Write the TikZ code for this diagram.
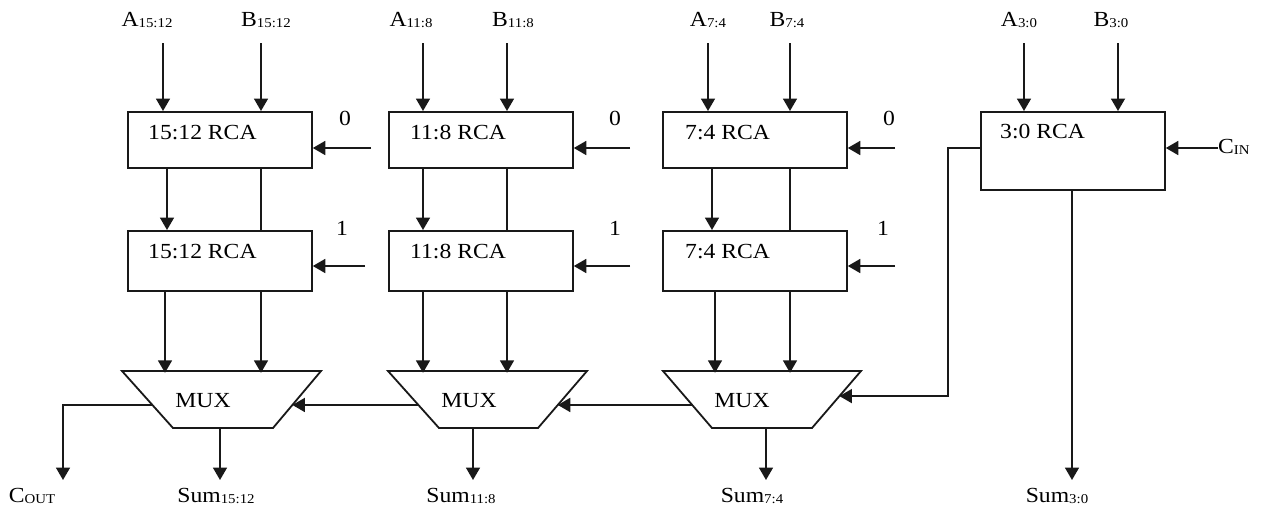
\documentclass[tikz,border=0pt]{standalone}
\usepackage{fontspec}
\setmainfont{Liberation Serif}[FakeStretch=1.1]
\usetikzlibrary{arrows.meta,calc}
% small index set just below the baseline of the main letter
\newcommand\lsub[1]{\raisebox{-1.2pt}{\fontsize{13.5pt}{15pt}\selectfont #1}}
\begin{document}
\begin{tikzpicture}[x=1pt,y=-1pt,
  wire/.style={line width=1.8pt, draw=black!90},
  arr/.style={wire, -{Triangle[width=14pt,length=12.5pt]}},
  rca/.style={draw=black!90, line width=1.8pt, minimum width=184pt, inner sep=0pt, anchor=north west},
  muxbody/.style={draw=black!90, line width=1.8pt, line join=miter},
  txt/.style={font=\fontsize{21.5pt}{24pt}\selectfont, inner sep=0pt, anchor=base},
]
\useasboundingbox (0,0) rectangle (1262,507);

% ripple-carry adders
\node[rca, minimum height=56pt] (r1a) at (127,111) {};
\node[rca, minimum height=60pt] (r1b) at (127,230) {};
\node[rca, minimum height=56pt] (r2a) at (388,111) {};
\node[rca, minimum height=60pt] (r2b) at (388,230) {};
\node[rca, minimum height=56pt] (r3a) at (662,111) {};
\node[rca, minimum height=60pt] (r3b) at (662,230) {};
\node[rca, minimum height=78pt] (r4)  at (980,111) {};

\node[txt, anchor=base west] (t1a) at ($(r1a.north west)+(21,28)$) {15:12 RCA};
\node[txt, anchor=base west] (t1b) at ($(r1b.north west)+(21,28)$) {15:12 RCA};
\node[txt, anchor=base west] (t2a) at ($(r2a.north west)+(22,28)$) {11:8 RCA};
\node[txt, anchor=base west] (t2b) at ($(r2b.north west)+(22,28)$) {11:8 RCA};
\node[txt, anchor=base west] (t3a) at ($(r3a.north west)+(23,28)$) {7:4 RCA};
\node[txt, anchor=base west] (t3b) at ($(r3b.north west)+(23,28)$) {7:4 RCA};
\node[txt, anchor=base west] (t4)  at ($(r4.north west)+(20,27)$) {3:0 RCA};

% multiplexer outlines (wide side up)
\coordinate (m1tl) at (122,371); \coordinate (m1tr) at (321,371);
\coordinate (m1br) at (273,428); \coordinate (m1bl) at (173,428);
\coordinate (m2tl) at (388,371); \coordinate (m2tr) at (587,371);
\coordinate (m2br) at (538,428); \coordinate (m2bl) at (439,428);
\coordinate (m3tl) at (663,371); \coordinate (m3tr) at (861,371);
\coordinate (m3br) at (812,428); \coordinate (m3bl) at (712,428);
\foreach \m in {m1,m2,m3}
  \draw[muxbody] (\m tl) -- (\m tr) -- (\m br) -- (\m bl) -- cycle;
\node[txt] (m1t) at (203,407) {MUX};
\node[txt] (m2t) at (469,407) {MUX};
\node[txt] (m3t) at (742,407) {MUX};

% operand labels
\node[txt] (la1) at (147,26) {A\lsub{15:12}};
\node[txt] (lb1) at (266,26) {B\lsub{15:12}};
\node[txt] (la2) at (411,26) {A\lsub{11:8}};
\node[txt] (lb2) at (513,26) {B\lsub{11:8}};
\node[txt] (la3) at (708,26) {A\lsub{7:4}};
\node[txt] (lb3) at (787,26) {B\lsub{7:4}};
\node[txt] (la4) at (1019,26) {A\lsub{3:0}};
\node[txt] (lb4) at (1111,26) {B\lsub{3:0}};

% carry-in constants
\node[txt] (z1) at (345,125) {0};
\node[txt] (z2) at (615,125) {0};
\node[txt] (z3) at (889,125) {0};
\node[txt] (o1) at (342,235) {1};
\node[txt] (o2) at (615,235) {1};
\node[txt] (o3) at (883,235) {1};

% output labels
\node[txt] (lco) at (32,502) {C\lsub{OUT}};
\node[txt] (ls1) at (216,502) {Sum\lsub{15:12}};
\node[txt] (ls2) at (461,502) {Sum\lsub{11:8}};
\node[txt] (ls3) at (752,502) {Sum\lsub{7:4}};
\node[txt] (ls4) at (1057,502) {Sum\lsub{3:0}};
\node[txt, anchor=base west] (lci) at (1218,153) {C\lsub{IN}};

% operand inputs
\foreach \b/\xa/\xb in {r1a/36/134, r2a/35/119, r3a/46/128, r4/44/138} {
  \draw[arr] ($(\b.north west)+(\xa,-68)$) -- ($(\b.north west)+(\xa,0)$);
  \draw[arr] ($(\b.north west)+(\xb,-68)$) -- ($(\b.north west)+(\xb,0)$);
}

% operands passed down to the carry-one adders
\foreach \t/\u/\xa/\xb in {r1a/r1b/40/134, r2a/r2b/35/119, r3a/r3b/50/128} {
  \draw[arr] ($(\t.south west)+(\xa,0)$) -- ($(\u.north west)+(\xa,0)$);
  \draw[wire] ($(\t.south west)+(\xb,0)$) -- ($(\u.north west)+(\xb,0)$);
}

% constant carry inputs
\coordinate (k1a) at (371,148);
\coordinate (k1b) at (365,266);
\coordinate (k2a) at (630,148);
\coordinate (k2b) at (630,266);
\coordinate (k3a) at (895,148);
\coordinate (k3b) at (895,266);
\draw[arr] (k1a) -- (k1a -| r1a.east);
\draw[arr] (k1b) -- (k1b -| r1b.east);
\draw[arr] (k2a) -- (k2a -| r2a.east);
\draw[arr] (k2b) -- (k2b -| r2b.east);
\draw[arr] (k3a) -- (k3a -| r3a.east);
\draw[arr] (k3b) -- (k3b -| r3b.east);

% adder results into the multiplexers (81pt from box bottom to mux top)
\foreach \u/\xa/\xb in {r1b/38/134, r2b/35/119, r3b/53/128} {
  \draw[arr] ($(\u.south west)+(\xa,0)$) -- ($(\u.south west)+(\xa,81)$);
  \draw[arr] ($(\u.south west)+(\xb,0)$) -- ($(\u.south west)+(\xb,81)$);
}

% select lines along the slanted sides
\coordinate (m1l) at ($(m1tl)!0.596!(m1bl)$);
\coordinate (m1r) at ($(m1tr)!0.596!(m1br)$);
\coordinate (m2l) at ($(m2tl)!0.596!(m2bl)$);
\coordinate (m2r) at ($(m2tr)!0.596!(m2br)$);
\coordinate (m3l) at ($(m3tl)!0.596!(m3bl)$);
\coordinate (m3r) at ($(m3tr)!0.44!(m3br)$);
\draw[arr] (m2l) -- (m1r);
\draw[arr] (m3l) -- (m2r);

% carry out of the low adder
\coordinate (bend) at (948,148);
\draw[arr] ($(r4.north west)+(0,37)$) -- (bend) -- (bend |- m3r) -- (m3r);

% carry input
\coordinate (cin) at (1218,148);
\draw[arr] (cin) -- (cin -| r4.east);

% results
\coordinate (s1) at (220,480);
\coordinate (s2) at (473,480);
\coordinate (s3) at (766,480);
\coordinate (s4) at (1072,480);
\coordinate (co) at (63,480);
\draw[arr] (s1 |- m1bl) -- (s1);
\draw[arr] (s2 |- m2bl) -- (s2);
\draw[arr] (s3 |- m3bl) -- (s3);
\draw[arr] (s4 |- r4.south) -- (s4);
\draw[arr] (m1l) -| (co);
\end{tikzpicture}
\end{document}
